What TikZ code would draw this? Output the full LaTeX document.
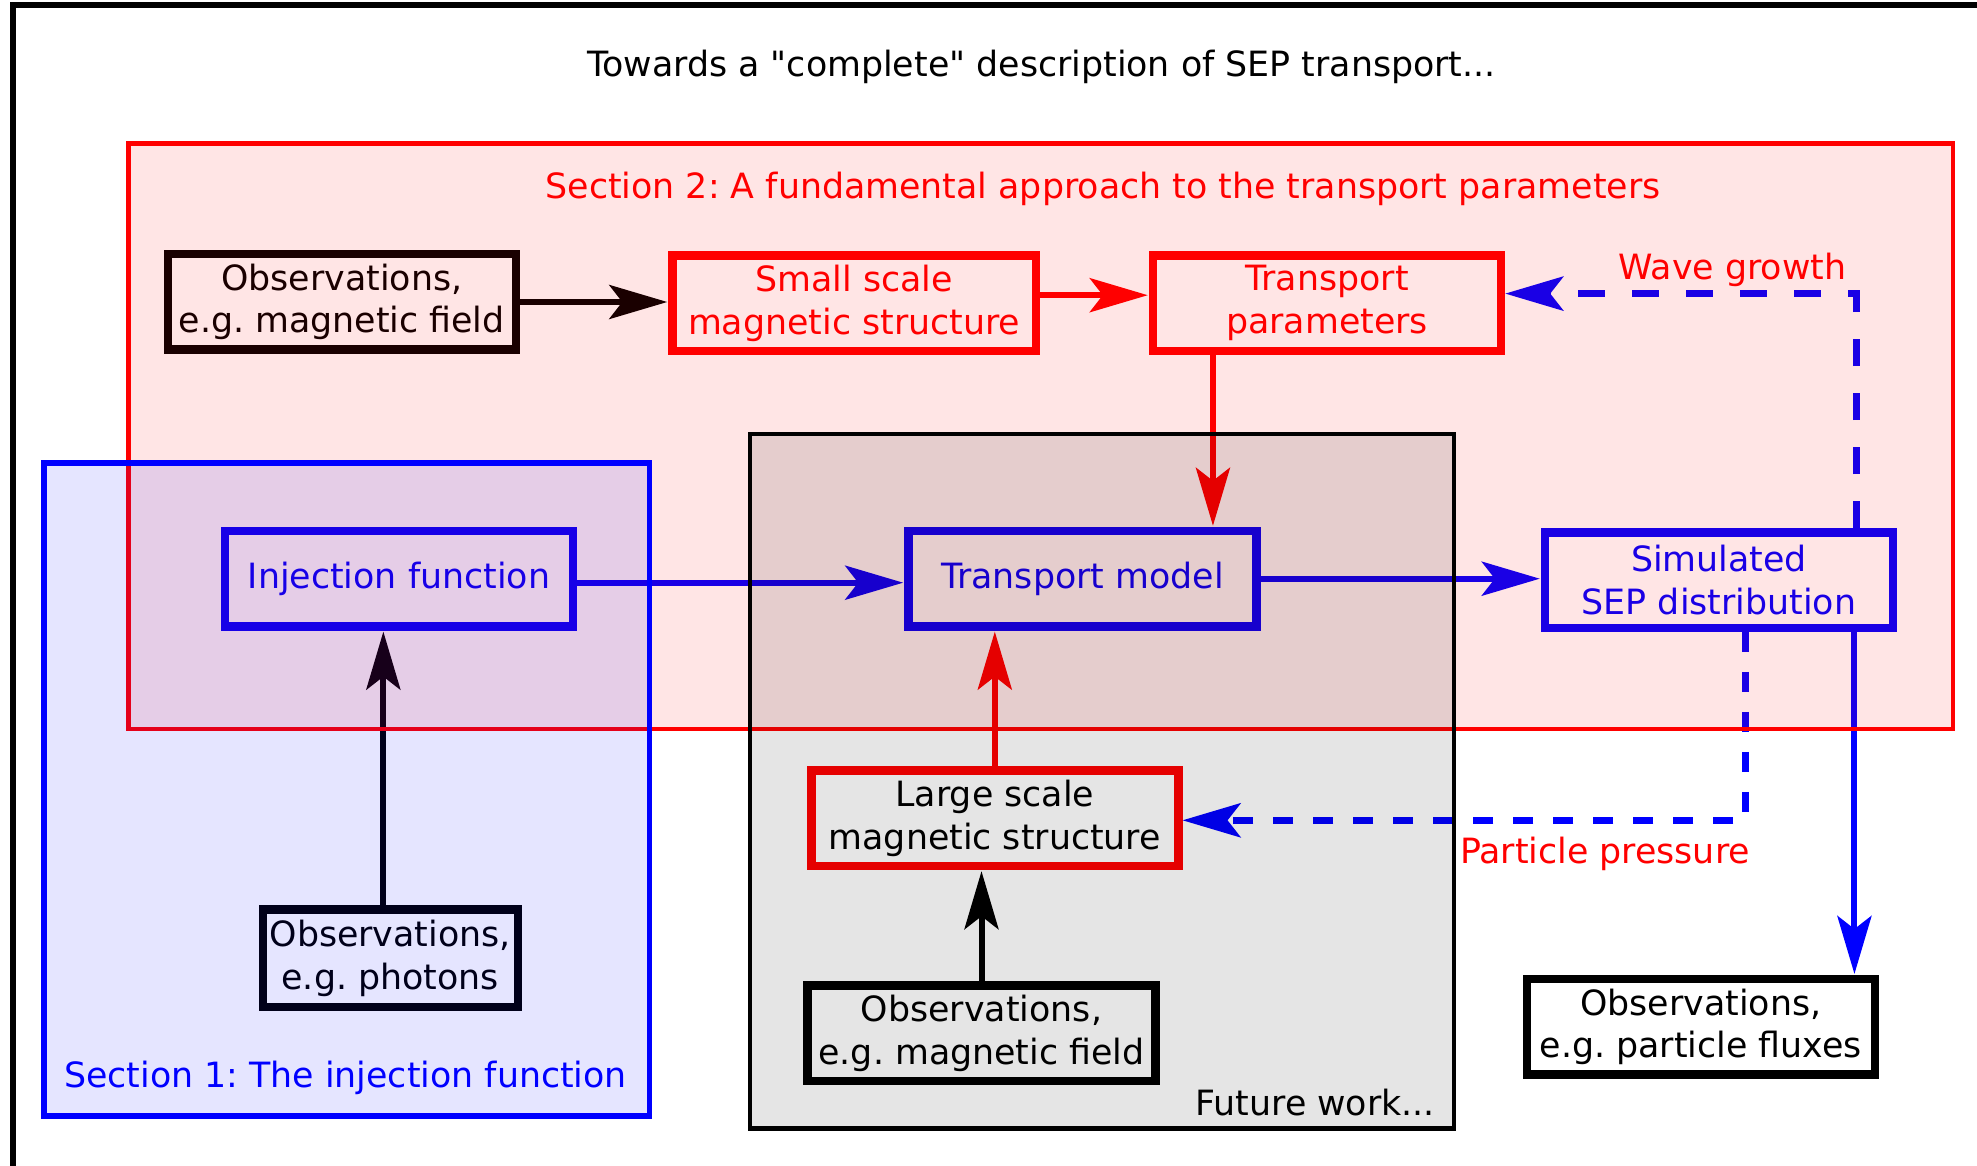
\documentclass[tikz,border=0pt]{standalone}
\usepackage{fontspec}
\setmainfont{DejaVu Sans}[Ligatures=TeXOff]
\usetikzlibrary{arrows.meta,calc}
\definecolor{myred}{HTML}{FF0000}
\definecolor{myblue}{HTML}{0000FF}
\begin{document}
\frenchspacing
\begin{tikzpicture}[x=0.5pt,y=-0.5pt,
  every node/.style={font=\fontsize{17.4}{21.4}\selectfont},
  box/.style={draw, line width=4.2pt, minimum width=174pt, minimum height=47.7pt, inner sep=0pt, align=center},
  conn/.style={line width=3pt, -{Stealth[length=29pt,width=17pt,inset=6.5pt]}, shorten >=0.5pt},
  dconn/.style={conn, myblue, line width=3.5pt, shorten >=0pt},
]
\useasboundingbox (0,0) rectangle (1977,1166);
\fill[white] (0,0) rectangle (1977,1166);
% outer frame
\draw[line width=3pt] (12.6,1190) -- (12.6,5) -- (2000,5);

% boxes
\node[box, black] (A) at (341.7,302) {Observations,\\e.g. magnetic field};
\node[box, myred, minimum width=181.7pt] (B) at (854.2,303.2) {Small scale\\magnetic structure};
\node[box, myred] (C) at (1327,303.2) {Transport\\parameters};
\node[box, myblue] (D) at (399,578.7) {Injection function};
\node[box, myblue] (E) at (1082.4,578.7) {Transport model};
\node[box, myblue] (F) at (1719,580) {Simulated\\SEP distribution};
\node[box, draw=myred, text=black, minimum width=183.5pt] (G) at (994.8,818.3) {Large scale\\magnetic structure};
\node[box, black, minimum width=127.5pt, minimum height=48.7pt] (H) at (390.2,958.2) {Observations,\\e.g. photons};
\node[box, black] (I) at (981.5,1033.2) {Observations,\\e.g. magnetic field};
\node[box, black] (J) at (1700.8,1026.9) {Observations,\\e.g. particle fluxes};

% connectors
\draw[conn, black] (A.east) -- (A.east -| B.west);
\draw[conn, myred] ([yshift=4pt]B.east) -- ([yshift=4pt]B.east -| C.west);
\coordinate (c1) at ($(C.south west)!0.18!(C.south east)$);
\draw[conn, myred] (c1) -- (c1 |- E.north);
\draw[conn, myblue] ([yshift=-2pt]D.east) -- ([yshift=-2pt]D.east -| E.west);
\draw[conn, myblue] (E.east) -- (E.east -| F.west);
\coordinate (h1) at ($(H.north west)!0.474!(H.north east)$);
\draw[conn, black] (h1) -- (h1 |- D.south);
\draw[conn, myred] (G.north) -- (G.north |- E.south);
\draw[conn, black] (I.north) -- (I.north |- G.south);
\coordinate (f3) at ($(F.south west)!0.88!(F.south east)$);
\draw[conn, myblue] (f3) -- (f3 |- J.north);
\coordinate (f1) at ($(F.south west)!0.573!(F.south east)$);
\draw[dconn, dash pattern=on 10pt off 10pt] (f1) |- ([yshift=-1pt]G.east);
\coordinate (f2) at ($(F.north west)!0.885!(F.north east)$);
\draw[dconn, dash pattern=on 13.5pt off 13.5pt] (f2) |- ([yshift=4.8pt]C.east);

% labels
\node[text=myred] (wg) at (1732.3,270) {Wave growth};
\node[text=myred] (pp) at (1605,853.5) {Particle pressure};

% section overlays
\draw[myred, line width=2.2pt, fill=myred, fill opacity=0.1] (128.6,143.7) rectangle (1953,728.7);
\draw[myblue, line width=2.8pt, fill=myblue, fill opacity=0.1] (44.1,462.7) rectangle (649.3,1115.8);
\draw[black, line width=2.2pt, fill=black, fill opacity=0.1] (750.2,433.7) rectangle (1453.7,1128.4);

% section labels and title
\node (title) at (1041.4,67) {Towards a "complete" description of SEP transport...};
\node[text=myred] (s2) at (1103,189) {Section 2: A fundamental approach to the transport parameters};
\node[text=myblue] (s1) at (345.5,1078) {Section 1: The injection function};
\node[anchor=east] (fw) at (1442,1103) {Future work...};
\end{tikzpicture}
\end{document}
